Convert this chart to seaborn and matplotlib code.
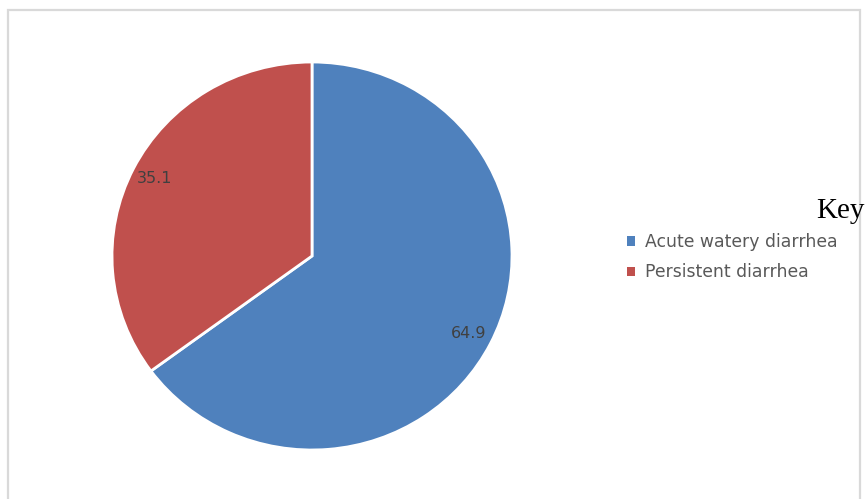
import matplotlib
matplotlib.use("Agg")
import matplotlib.pyplot as plt
from matplotlib.patches import Rectangle, Patch
import seaborn as sns

# Types of diarrhea (percent of cases)
categories = ["Acute watery diarrhea", "Persistent diarrhea"]
values = [64.9, 35.1]
value_labels = ["64.9", "35.1"]
colors = ["#4F81BD", "#C0504D"]

sns.set_theme(style="white")
plt.rcParams["font.family"] = ["DejaVu Sans"]

W, H = 868, 499
fig = plt.figure(figsize=(W / 100, H / 100), dpi=100)
fig.patch.set_facecolor("white")

# Light grey chart-area border
fig.add_artist(Rectangle((8 / W, -0.1), (860 - 8) / W, 1.1 - 10 / H,
                         transform=fig.transFigure, fill=False,
                         edgecolor="#D9D9D9", linewidth=1.6))

# Pie area placed in pixel terms
cx, cy, rx, ry = 312, 256, 200, 194
ax = fig.add_axes([(cx - rx) / W, (H - cy - ry) / H, 2 * rx / W, 2 * ry / H])
wedges, texts = ax.pie(values, labels=value_labels, colors=colors,
                       startangle=90, counterclock=False, radius=1,
                       labeldistance=0.88,
                       wedgeprops=dict(edgecolor="white", linewidth=2),
                       textprops=dict(color="#404040", fontsize=11.5,
                                      ha="center", va="center"))
for t in texts:
    t.set_horizontalalignment("center")
ax.set_aspect("auto")
ax.set_xlim(-1, 1)
ax.set_ylim(-1, 1)
ax.axis("off")

# Legend
handles = [Patch(facecolor=c, edgecolor="none") for c in colors]
fig.legend(handles, categories, loc="upper left",
           bbox_to_anchor=(627 / W, 1 - 233 / H), frameon=False,
           fontsize=12.4, labelcolor="#595959", handlelength=0.47,
           handleheight=0.47, handletextpad=0.58, labelspacing=0.72,
           borderaxespad=0, borderpad=0)

fig.text(816 / W, 1 - 218 / H, "Key", fontsize=21, va="baseline", ha="left",
         family=["Liberation Serif", "DejaVu Serif"], color="black")

fig.savefig("out.png", dpi=100, facecolor="white")
